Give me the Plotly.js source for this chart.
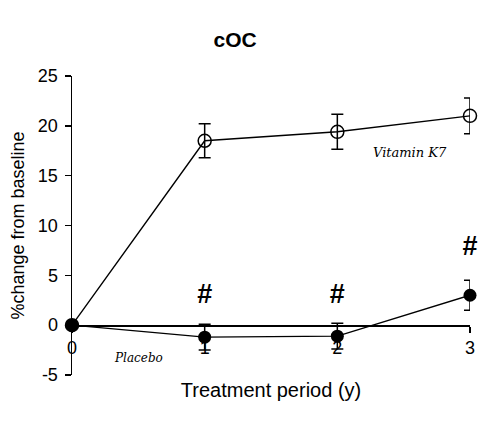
<!DOCTYPE html>
<html>
<head>
<meta charset="utf-8">
<script src="https://cdn.plot.ly/plotly-3.0.1.min.js"></script>
<style>html,body{margin:0;padding:0;background:#fff;}#chart{width:490px;height:430px;}</style>
</head>
<body>
<div id="chart"></div>
<script>
var years = [0, 1, 2, 3];
var vitaminK7 = [0, 18.5, 19.4, 21.0];
var vitaminK7Err = [0, 1.7, 1.75, 1.8];
var placebo = [0, -1.2, -1.1, 3.0];
var placeboErr = [0, 1.3, 1.3, 1.5];
var sigX = [1, 2, 3];
var sigY = [2.9, 2.9, 7.7];
var sigLabel = ['#', '#', '#'];
var yTicks = [-5, 0, 5, 10, 15, 20, 25];
var yTickText = ['-5', '0', '5', '10', '15', '20', '25'];
var xTicks = [0, 1, 2, 3];
var xTickText = ['0', '1', '2', '3'];

var traces = [
  {
    x: years, y: vitaminK7, type: 'scatter', mode: 'lines+markers', name: 'Vitamin K7',
    line: {color: '#000', width: 1.4},
    marker: {symbol: 'circle-open', size: 13, color: '#000', line: {color: '#000', width: 1.5}},
    error_y: {type: 'data', array: vitaminK7Err, visible: true, color: '#000', thickness: 1.5, width: 6},
    cliponaxis: false
  },
  {
    x: years, y: placebo, type: 'scatter', mode: 'lines+markers', name: 'Placebo',
    line: {color: '#000', width: 1.4},
    marker: {symbol: 'circle', size: 13, color: '#000'},
    error_y: {type: 'data', array: placeboErr, visible: true, color: '#000', thickness: 1.5, width: 6},
    cliponaxis: false
  },
  {
    x: sigX, y: sigY, type: 'scatter', mode: 'text', text: sigLabel.map(function (s) { return '<b>' + s + '</b>'; }),
    textfont: {family: 'Liberation Sans, Arial', size: 27, color: '#000'},
    hoverinfo: 'skip', cliponaxis: false
  }
];

var layout = {
  width: 490, height: 430,
  margin: {l: 72, r: 20, t: 76, b: 55},
  paper_bgcolor: '#fff', plot_bgcolor: '#fff',
  showlegend: false,
  font: {family: 'Liberation Sans, Arial, sans-serif', color: '#000'},
  title: {text: '<b>cOC</b>', x: 0.48, xanchor: 'center', y: 0.907, yanchor: 'middle',
          font: {family: 'Liberation Sans, Arial', size: 21, color: '#000'}},
  xaxis: {
    range: [0, 3], tickvals: xTicks, ticktext: xTickText,
    showgrid: false, zeroline: false, showline: true, linecolor: '#000', linewidth: 1.5,
    ticks: 'outside', ticklen: 6, tickwidth: 1.5, tickcolor: '#000',
    tickfont: {size: 18, color: '#000'},
    layer: 'above traces',
    anchor: 'free', position: 1/6,
    title: {text: 'Treatment period (y)', font: {size: 20, color: '#000'}, standoff: 25}
  },
  yaxis: {
    range: [-5, 25], tickvals: yTicks, ticktext: yTickText,
    showgrid: false, zeroline: false, showline: true, linecolor: '#000', linewidth: 1.5,
    ticks: 'outside', ticklen: 6, tickwidth: 1.5, tickcolor: '#000',
    tickfont: {size: 18, color: '#000'}, ticklabelstandoff: 3,
    title: {text: '%change from baseline', font: {size: 18, color: '#000'}, standoff: 8}
  },
  annotations: [
    {x: 2.55, y: 17.3, xref: 'x', yref: 'y', text: '<i>Vitamin K7</i>', showarrow: false,
     font: {family: 'DejaVu Serif', size: 13, color: '#000'}},
    {x: 0.5, y: -3.3, xref: 'x', yref: 'y', text: '<i>Placebo</i>', showarrow: false,
     font: {family: 'DejaVu Serif', size: 12, color: '#000'}}
  ]
};

Plotly.newPlot('chart', traces, layout, {displayModeBar: false, staticPlot: true});
</script>
</body>
</html>
